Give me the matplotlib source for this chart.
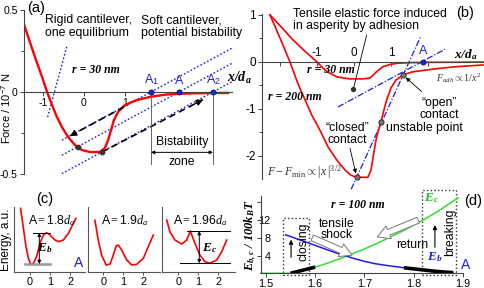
import matplotlib
matplotlib.use('Agg')
import matplotlib.pyplot as plt
from matplotlib.patches import Rectangle

plt.rcParams['font.family'] = 'Liberation Sans'
plt.rcParams['mathtext.fontset'] = 'custom'
plt.rcParams['mathtext.rm'] = 'Liberation Serif'
plt.rcParams['mathtext.it'] = 'Liberation Serif:italic'
plt.rcParams['mathtext.bf'] = 'Liberation Serif:bold:italic'
plt.rcParams['mathtext.sf'] = 'Liberation Sans'

RED = '#ff0000'
BLUE = '#1c1cf0'
GREEN = '#33dd33'
W, H = 485, 288

# ---- panel (a): force curve, r = 30 nm
a_x = [-1.46, -1.32, -1.17, -1.02, -0.90, -0.78, -0.66, -0.54, -0.39, -0.22, -0.05,
       0.15, 0.39, 0.51, 0.59, 0.66, 0.73, 0.83, 1.0, 1.29, 1.61, 2.02, 2.51, 3.15, 3.51]
a_y = [0.41, 0.305, 0.195, 0.09, 0.0, -0.079, -0.152, -0.213, -0.274, -0.323, -0.354,
       -0.366, -0.366, -0.341, -0.293, -0.232, -0.171, -0.122, -0.079, -0.049, -0.03,
       -0.015, -0.009, -0.006, -0.006]
a_marks = [1.634, 2.317, 3.146]            # A1, A, A2
a_mark_labels = ['A$_\\mathsf{1}$', 'A', 'A$_\\mathsf{2}$']
a_soft_x = [-0.54, 3.61]
a_soft_y = [[-0.293, 0.267], [-0.386, 0.175], [-0.498, 0.063]]
a_rigid_x = [-0.42, -0.90]
a_rigid_y = [0.276, -0.165]
a_jump_down = [(0.976, -0.091), (-0.341, -0.268)]
a_jump_up = [(0.439, -0.366), (2.90, -0.047)]
a_dots_x = [-0.146, 0.432]
a_dots_y = [-0.335, -0.366]

# ---- panel (b): force / F_min for r = 30 nm and r = 200 nm
b30_x = [-2.27, -1.95, -1.65, -1.3, -1.0, -0.85, -0.70, -0.45, -0.11, 0.24, 0.43, 0.52,
         0.61, 0.78, 0.97, 1.15, 1.5, 2.0, 3.54]
b30_y = [1.0, 0.73, 0.47, 0.21, 0.0, -0.12, -0.22, -0.32, -0.36, -0.36, -0.34, -0.28,
         -0.21, -0.10, -0.055, -0.03, -0.015, -0.008, -0.003]
b200_x = [-2.27, -2.0, -1.73, -1.51, -1.32, -1.14, -0.92, -0.70, -0.46, -0.24, -0.08, 0.07,
          0.378, 0.46, 0.527, 0.595, 0.662, 0.73, 0.811, 0.892, 1.0, 1.135, 1.324, 1.568,
          1.865, 2.324, 2.784, 3.486]
b200_y = [1.0, 0.51, 0.0, -0.47, -0.81, -1.13, -1.45, -1.81, -2.09, -2.30, -2.41, -2.453,
          -2.453, -2.30, -1.98, -1.66, -1.45, -1.277, -1.02, -0.787, -0.553, -0.383, -0.277,
          -0.213, -0.181, -0.134, -0.1, -0.064]
b_line30_x = [-0.432, 2.459]
b_line30_y = [-0.957, 0.270]
b_line200_x = [-0.076, 1.80]
b_line200_y = [-2.708, 0.538]
b_states_x = [0.073, 0.730, 1.324]      # closed, unstable, open
b_states_y = [-2.453, -1.277, -0.277]
b_A = 1.865

# ---- panel (c): energy profiles
c_titles = ['A$=$1.8$d_a$', 'A$=$1.9$d_a$', 'A$=$1.96$d_a$']
c1_x = [-0.47, -0.33, -0.2, -0.08, 0.03, 0.17, 0.33, 0.5, 0.67, 0.83, 1.0, 1.25, 1.42,
        1.67, 1.92, 2.17, 2.3]
c1_y = [6.4, 4.4, 2.56, 1.4, 0.83, 0.9, 1.56, 2.9, 3.73, 3.96, 3.73, 3.23, 3.06, 3.23,
        3.9, 4.9, 5.4]
c2_x = [-0.42, -0.25, -0.08, 0.14, 0.34, 0.5, 0.64, 0.75, 0.92, 1.17, 1.42, 1.67, 2.0,
        2.25, 2.5]
c2_y = [5.2, 3.2, 1.7, 0.73, 0.83, 1.73, 2.63, 2.73, 2.23, 1.23, 0.73, 0.8, 1.4, 2.56, 3.73]
c3_x = [-0.58, -0.42, -0.17, 0.17, 0.42, 0.6, 0.83, 1.08, 1.33, 1.58, 1.92, 2.17, 2.42]
c3_y = [5.23, 4.06, 3.23, 2.83, 3.23, 4.13, 2.9, 1.73, 1.06, 0.9, 1.23, 2.06, 3.23]

# ---- panel (d): barriers vs A, r = 100 nm
d_eb_x = [1.54, 1.56, 1.58, 1.60, 1.62, 1.64, 1.66, 1.68, 1.70, 1.72, 1.74, 1.76, 1.78,
          1.80, 1.82, 1.84, 1.86, 1.88]
d_eb_y = [8.7, 7.9, 7.1, 6.3, 5.5, 4.7, 4.0, 3.3, 2.7, 2.2, 1.85, 1.55, 1.25, 1.0, 0.75,
          0.5, 0.3, 0.15]
d_ec_x = [1.49, 1.55, 1.60, 1.62, 1.64, 1.66, 1.68, 1.70, 1.72, 1.74, 1.76, 1.78, 1.80,
          1.82, 1.84, 1.86, 1.88, 1.89]
d_ec_y = [0, 0, 1.4, 2.1, 2.9, 3.7, 4.6, 5.5, 6.5, 7.5, 8.6, 9.7, 10.9, 12.1, 13.4, 14.8,
          16.3, 17.0]

fig = plt.figure(figsize=(4.85, 2.88), dpi=100)


def add_px_axes(l, t, r, b):
    ax = fig.add_axes([l / W, 1 - b / H, (r - l) / W, (b - t) / H])
    ax.patch.set_alpha(0)
    return ax


def dashed_arrow(ax, p0, p1):
    ax.plot([p0[0], p1[0]], [p0[1], p1[1]], color='k', ls=(0, (4, 2.5)), lw=1.2)
    ax.annotate('', xy=p1, xytext=(p1[0] + 0.08 * (p0[0] - p1[0]), p1[1] + 0.08 * (p0[1] - p1[1])),
                arrowprops=dict(arrowstyle='-|>', color='k', lw=1, mutation_scale=9,
                                shrinkA=0, shrinkB=0))


def double_arrow(ax, p0, p1, ms=5):
    ax.annotate('', xy=p1, xytext=p0,
                arrowprops=dict(arrowstyle='<|-|>', color='k', lw=0.7, mutation_scale=ms,
                                shrinkA=0, shrinkB=0))


# ================= (a)
ax = add_px_axes(24, 10, 232, 174)
ax.set_xlim(-1.463, 3.61)
ax.set_ylim(-0.5, 0.5)
for s in ['top', 'right']:
    ax.spines[s].set_visible(False)
ax.spines['bottom'].set_position(('data', 0))
for s in ['left', 'bottom']:
    ax.spines[s].set_color('#444')
    ax.spines[s].set_linewidth(0.8)
ax.set_xticks([-1, 0, 1])
ax.set_xticklabels(['-1', '0', '1'])
ax.set_yticks([-0.5, 0, 0.5])
ax.set_yticklabels(['-0.5', '0', '0.5'])
ax.set_yticks([-0.25, 0.25], minor=True)
ax.tick_params(labelsize=7.5, length=3, width=0.7, color='#444', pad=1.5)
ax.tick_params(which='minor', length=2, width=0.7, color='#444')

for ys in a_soft_y:
    ax.plot(a_soft_x, ys, color=BLUE, ls=(0, (1.2, 1.5)), lw=1.0)
ax.plot(a_rigid_x, a_rigid_y, color=BLUE, ls=(0, (1.2, 1.5)), lw=1.0)
ax.plot(a_x, a_y, color=RED, lw=1.7, solid_joinstyle='round')
dashed_arrow(ax, *a_jump_down)
dashed_arrow(ax, *a_jump_up)
ax.scatter(a_dots_x, a_dots_y, s=10, color='#333', zorder=5)
for xm, lab in zip(a_marks, a_mark_labels):
    ax.scatter([xm], [0], s=14, color=BLUE, edgecolor='#113', lw=0.5, zorder=6)
    ax.text(xm, 0.03, lab, color=BLUE, fontsize=9, ha='center', va='bottom')
for xm in (a_marks[0], a_marks[2]):
    ax.plot([xm, xm], [0, -0.44], color='#666', lw=0.7)
double_arrow(ax, (a_marks[0], -0.368), (a_marks[2], -0.368))
ax.text(2.39, -0.305, 'Bistability', fontsize=8.8, ha='center', va='center')
ax.text(2.39, -0.427, 'zone', fontsize=8.8, ha='center', va='center')
ax.text(-0.95, 0.475, 'Rigid cantilever,\none equilibrium', fontsize=8.8, va='top',
        linespacing=1.05)
ax.text(1.39, 0.475, 'Soft cantilever,\npotential bistability', fontsize=8.8, va='top',
        linespacing=1.05)
ax.text(0.29, 0.134, 'r = 30 nm', family='Liberation Serif', style='italic',
        weight='bold', fontsize=8.5, ha='center', va='center')
ax.text(3.48, 0.085, r'$\mathbf{x/d_a}$', fontsize=10, va='center')
ax.text(-1.17, 0.515, '(a)', fontsize=10.5, ha='center', va='center')
fig.text(6.5 / W, 1 - 108 / H, 'Force / 10$^{\\mathsf{-7}}$ N', rotation=90, fontsize=8,
         ha='center', va='center')

# ================= (b)
ax = add_px_axes(262, 14, 485, 179.5)
ax.set_xlim(-2.486, 3.541)
ax.set_ylim(-2.5, 1.02)
for s in ['bottom', 'right']:
    ax.spines[s].set_visible(False)
ax.spines['top'].set_position(('data', 0))
for s in ['left', 'top']:
    ax.spines[s].set_color('#444')
    ax.spines[s].set_linewidth(0.8)
ax.xaxis.set_ticks_position('top')
ax.set_xticks([-2, -1, 0, 1, 2])
ax.set_xticklabels(['', '-1', '0', '1', ''])
ax.set_yticks([-2, -1, 0, 1])
ax.set_yticklabels(['-2', '-1', '0', '1'])
ax.set_yticks([-1.5, -0.5, 0.5], minor=True)
ax.tick_params(axis='x', direction='in', labelsize=8.5, length=3, width=0.7,
               color='#444', pad=2)
ax.tick_params(axis='y', labelsize=8.5, length=3, width=0.7, color='#444', pad=1.5)
ax.tick_params(which='minor', length=2, width=0.7, color='#444')

ax.plot(b_line30_x, b_line30_y, color=BLUE, ls=(0, (5, 1.5, 1, 1.5)), lw=0.9, clip_on=False)
ax.plot(b_line200_x, b_line200_y, color=BLUE, ls=(0, (5, 1.5, 1, 1.5)), lw=0.9,
        clip_on=False)
ax.plot(b30_x, b30_y, color=RED, lw=1.2, solid_joinstyle='round')
ax.plot(b200_x, b200_y, color=RED, lw=1.2, solid_joinstyle='round', clip_on=False)
ax.scatter(b_states_x, b_states_y, s=14, color='#777', edgecolor='#222', lw=0.6, zorder=6,
           clip_on=False)
ax.scatter([b_A], [0], s=14, color=BLUE, edgecolor='#113', lw=0.5, zorder=6)
ax.text(b_A, 0.1, 'A', color=BLUE, fontsize=9, ha='center', va='bottom')
ax.text(2.70, 0.15, r'$\mathbf{x/d_a}$', fontsize=9.5, va='center')
ax.text(3.0, 1.04, '(b)', fontsize=10.5, ha='center', va='center')
ax.text(-1.65, 1.15, 'Tensile elastic force induced\nin asperity by adhesion', fontsize=8.8,
        va='top', linespacing=1.05)
ax.annotate('', xy=(-0.019, -0.581), xytext=(0.343, 0.574),
            arrowprops=dict(arrowstyle='-', color='k', lw=0.6, shrinkA=0, shrinkB=0))
ax.scatter([-0.019], [-0.581], s=8, color='#333', zorder=6)
ax.text(-0.62, -0.17, 'r = 30 nm', family='Liberation Serif', style='italic',
        weight='bold', fontsize=8.5, ha='center', va='center')
ax.text(-1.6, -0.745, 'r = 200 nm', family='Liberation Serif', style='italic',
        weight='bold', fontsize=8.5, ha='center', va='center')
ax.text(2.22, -0.34, r'$F_{adh} \propto 1/x^2$', fontsize=7.3, color='#333', va='center')
ax.text(2.30, -1.0, '\u201copen\u201d\ncontact', fontsize=8.8, ha='center', va='center',
        linespacing=1.0)
ax.annotate('', xy=(1.40, -0.33), xytext=(1.83, -0.632),
            arrowprops=dict(arrowstyle='-|>', color='k', lw=0.6, mutation_scale=6,
                            shrinkA=0, shrinkB=0))
ax.text(-0.19, -1.53, '\u201cclosed\u201d\ncontact', fontsize=8.8, ha='center', va='center',
        linespacing=1.0)
ax.annotate('', xy=(0.05, -2.37), xytext=(-0.108, -1.836),
            arrowprops=dict(arrowstyle='-|>', color='k', lw=0.6, mutation_scale=6,
                            shrinkA=0, shrinkB=0))
ax.text(0.86, -1.40, 'unstable point', fontsize=8.8, va='center')
ax.text(-2.35, -2.34, r'$F - F_{\rm min} \propto |\, x\,|^{3/2}$', fontsize=8.5,
        color='#333', va='center')

# ================= (c)
c_boxes = [(14, 85, -0.8, 2.75), (88.3, 160, -0.75, 2.835), (162.3, 235, -0.8, 2.835)]
c_curves = [(c1_x, c1_y), (c2_x, c2_y), (c3_x, c3_y)]
c_axes = []
for (l, r, x0, x1), (cx, cy), title in zip(c_boxes, c_curves, c_titles):
    ax = add_px_axes(l, 207, r, 272.3)
    ax.set_xlim(x0, x1)
    ax.set_ylim(0, 6.53)
    for s in ['top', 'right']:
        ax.spines[s].set_visible(False)
    for s in ['left', 'bottom']:
        ax.spines[s].set_color('#555')
        ax.spines[s].set_linewidth(0.8)
    ax.set_yticks([])
    ax.set_xticks([0, 1, 2])
    ax.tick_params(labelsize=7.8, length=2.5, width=0.7, color='#555', pad=1)
    ax.plot(cx, cy, color=RED, lw=1.2, solid_joinstyle='round')
    ax.text(1.1, 5.2, title, fontsize=8.8, ha='center', va='center')
    c_axes.append(ax)

ax = c_axes[0]
ax.plot([0.165, 1.0], [3.96, 3.96], color='k', lw=0.7)
ax.plot([-0.25, 1.0], [0.83, 0.83], color='#999', lw=1.8)
double_arrow(ax, (0.465, 0.83), (0.465, 3.96))
ax.text(0.75, 2.43, r'$\mathbf{E_b}$', fontsize=9.5, ha='center', va='center')
ax.text(2.42, 0.95, 'A', color=BLUE, fontsize=10, ha='center', va='center')
ax = c_axes[2]
ax.plot([0.42, 2.585], [4.13, 4.13], color='k', lw=0.7, clip_on=False)
ax.plot([0.085, 2.585], [0.9, 0.9], color='k', lw=0.7, clip_on=False)
double_arrow(ax, (1.05, 0.9), (1.05, 4.13))
ax.text(1.58, 2.43, r'$\mathbf{E_c}$', fontsize=9.5, ha='center', va='center')
fig.text(45 / W, 1 - 199 / H, '(c)', fontsize=10.5, ha='center', va='center')
fig.text(6 / W, 1 - 240 / H, 'Energy, a.u.', rotation=90, fontsize=8.5, ha='center',
         va='center')

# ================= (d)
ax = add_px_axes(261, 195.8, 463, 273.3)
ax.set_xlim(1.49, 1.9)
ax.set_ylim(0, 17.5)
for s in ['top', 'right']:
    ax.spines[s].set_visible(False)
for s in ['left', 'bottom']:
    ax.spines[s].set_color('#444')
    ax.spines[s].set_linewidth(0.8)
ax.set_xticks([1.5, 1.6, 1.7, 1.8, 1.9])
ax.set_xticklabels(['1.5', '1.6', '1.7', '1.8', '1.9'])
ax.set_yticks([4, 8, 12, 16])
ax.set_yticklabels(['4', '8', '12', ''])
ax.tick_params(axis='x', labelsize=7.8, length=3, width=0.7, color='#444', pad=1)
ax.tick_params(axis='y', labelsize=7.8, length=3, width=0.7, color='#444', pad=-10)

ax.plot(d_ec_x, d_ec_y, color=GREEN, lw=1.1, clip_on=False)
ax.plot(d_eb_x, d_eb_y, color=BLUE, lw=1.1)
ax.plot(d_ec_x[1:3], d_ec_y[1:3], color='k', lw=2.6, solid_capstyle='butt')
ax.plot(d_eb_x[12:], d_eb_y[12:], color='k', lw=2.6, solid_capstyle='butt')

ax.add_patch(Rectangle((1.534, -0.4), 0.054, 12.9, fill=False, ls=':', lw=1, ec='#333',
                       clip_on=False))
ax.add_patch(Rectangle((1.817, -0.4), 0.069, 19.2, fill=False, ls=':', lw=1, ec='#333',
                       clip_on=False))
ax.text(1.577, 7.1, 'closing', rotation=90, fontsize=8.8, ha='center', va='center')
ax.annotate('', xy=(1.551, 7.6), xytext=(1.551, 3.6),
            arrowprops=dict(arrowstyle='-|>', color='k', lw=0.8, mutation_scale=6,
                            shrinkA=0, shrinkB=0))
ax.text(1.874, 9.3, 'breaking', rotation=90, fontsize=8.8, ha='center', va='center')
ax.annotate('', xy=(1.843, 10.9), xytext=(1.843, 5.9),
            arrowprops=dict(arrowstyle='-|>', color='k', lw=0.8, mutation_scale=6,
                            shrinkA=0, shrinkB=0))
hollow = dict(arrowstyle='simple,head_length=0.8,head_width=0.9,tail_width=0.4',
              fc='white', ec='#777', lw=0.7, mutation_scale=11, shrinkA=0, shrinkB=0)
ax.annotate('', xy=(1.675, 4.1), xytext=(1.594, 8.0), arrowprops=hollow)
ax.annotate('', xy=(1.726, 8.2), xytext=(1.809, 12.0), arrowprops=hollow)
ax.text(1.643, 9.9, 'tensile\nshock', fontsize=8.8, ha='center', va='center',
        linespacing=0.95)
ax.text(1.797, 6.4, 'return', fontsize=8.8, ha='center', va='center')
ax.text(1.686, 15.4, 'r = 100 nm', family='Liberation Serif', style='italic',
        weight='bold', fontsize=8.5, ha='center', va='center')
ax.text(1.837, 17.0, r'$\mathbf{E_c}$', color='#22bb22', fontsize=9.5, ha='center',
        va='center')
ax.text(1.843, 3.6, r'$\mathbf{E_b}$', color=BLUE, fontsize=9.5, ha='center', va='center')
ax.text(1.905, 1.9, 'A', color=BLUE, fontsize=10, ha='center', va='center')
ax.text(1.92, 16.4, '(d)', fontsize=10.5, ha='center', va='center')
fig.text(251 / W, 1 - 235 / H, r'$\mathbf{E_{b,c}\ /\ 100k_BT}$', rotation=90, fontsize=9,
         ha='center', va='center')

fig.savefig('out.png', dpi=100)
